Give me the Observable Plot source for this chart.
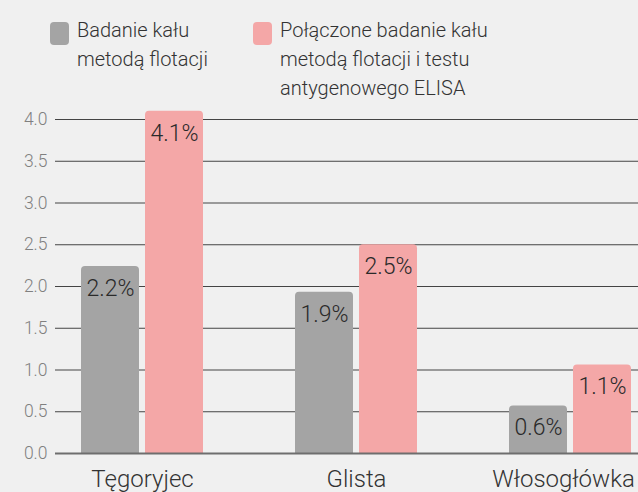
<!DOCTYPE html>
<html>
<head>
<meta charset="utf-8">
<script src="https://cdn.jsdelivr.net/npm/d3@7"></script>
<script src="https://cdn.jsdelivr.net/npm/@observablehq/plot@0.6"></script>
<style>
  html, body { margin: 0; padding: 0; background: #f0f0f0; }
  body { width: 638px; height: 492px; overflow: hidden; font-family: Roboto, "Noto Sans", sans-serif; font-weight: 300; }
  #legend { position: relative; height: 100px; }
  .item { position: absolute; top: 16px; display: flex; align-items: flex-start; }
  .sw { width: 19px; height: 23px; border-radius: 4px; margin-top: 6px; margin-right: 8px; flex: none; }
  .lbl { font-size: 20px; line-height: 29px; color: #333; }
</style>
</head>
<body>
<div id="legend"></div>
<div id="chart"></div>
<script>
const categories = ["Tęgoryjec", "Glista", "Włosogłówka"];
const seriesNames = ["Badanie kału\nmetodą flotacji", "Połączone badanie kału\nmetodą flotacji i testu\nantygenowego ELISA"];
const flotation = [2.24, 1.93, 0.57];
const combined = [4.1, 2.5, 1.06];
const yTicks = [0, 0.5, 1, 1.5, 2, 2.5, 3, 3.5, 4];
const colors = ["#a4a4a4", "#f4a7a7"];

const dataA = categories.map((c, i) => ({cat: c, value: flotation[i]}));
const dataB = categories.map((c, i) => ({cat: c, value: combined[i]}));

// legend
const legend = document.getElementById("legend");
const legendX = [50, 253];
seriesNames.forEach((s, i) => {
  const item = document.createElement("div");
  item.className = "item";
  item.style.left = legendX[i] + "px";
  const sw = document.createElement("div");
  sw.className = "sw";
  sw.style.background = colors[i];
  const lbl = document.createElement("div");
  lbl.className = "lbl";
  lbl.innerHTML = s.split("\n").join("<br>");
  item.appendChild(sw);
  item.appendChild(lbl);
  legend.appendChild(item);
});

const half = 32;   // half of bar width + half gap
const inset = 64;  // inset to split a band into two bars
const fmt = d => d.value.toFixed(1) + "%";
const xAxisStyle = {tickSize: 0, tickPadding: 16, fontSize: 24, fill: "#333", label: null};

const chart = Plot.plot({
  width: 638,
  height: 392,
  marginLeft: 55,
  marginRight: 0,
  marginTop: 19,
  marginBottom: 39,
  style: {background: "transparent", fontFamily: "Roboto, sans-serif", fontWeight: 300},
  x: {domain: categories, paddingInner: 0.43, paddingOuter: 0.077, align: 0.79, label: null},
  y: {domain: [0, 4], label: null},
  marks: [
    Plot.ruleY(yTicks.filter(d => d > 0), {stroke: "#444", strokeWidth: 1}),
    Plot.axisY(yTicks, {tickSize: 0, tickPadding: 8, fontSize: 17.5, fill: "#808080", tickFormat: d => d.toFixed(1), label: null}),
    Plot.axisX(categories.slice(0, 2), xAxisStyle),
    Plot.axisX(categories.slice(2), {...xAxisStyle, dx: -7}),
    Plot.barY(dataA, {x: "cat", y: "value", fill: colors[0], insetRight: inset, ry1: 4}),
    Plot.barY(dataB, {x: "cat", y: "value", fill: colors[1], insetLeft: inset, ry1: 4}),
    Plot.ruleY([0], {stroke: "#6e6e6e", strokeWidth: 2}),
    Plot.text(dataA, {x: "cat", y: "value", text: fmt, dx: -half, dy: 22, fontSize: 23, fill: "#2a2a2a", lineAnchor: "middle"}),
    Plot.text(dataB, {x: "cat", y: "value", text: fmt, dx: half, dy: 22, fontSize: 23, fill: "#2a2a2a", lineAnchor: "middle"})
  ]
});
document.getElementById("chart").appendChild(chart);
</script>
</body>
</html>
